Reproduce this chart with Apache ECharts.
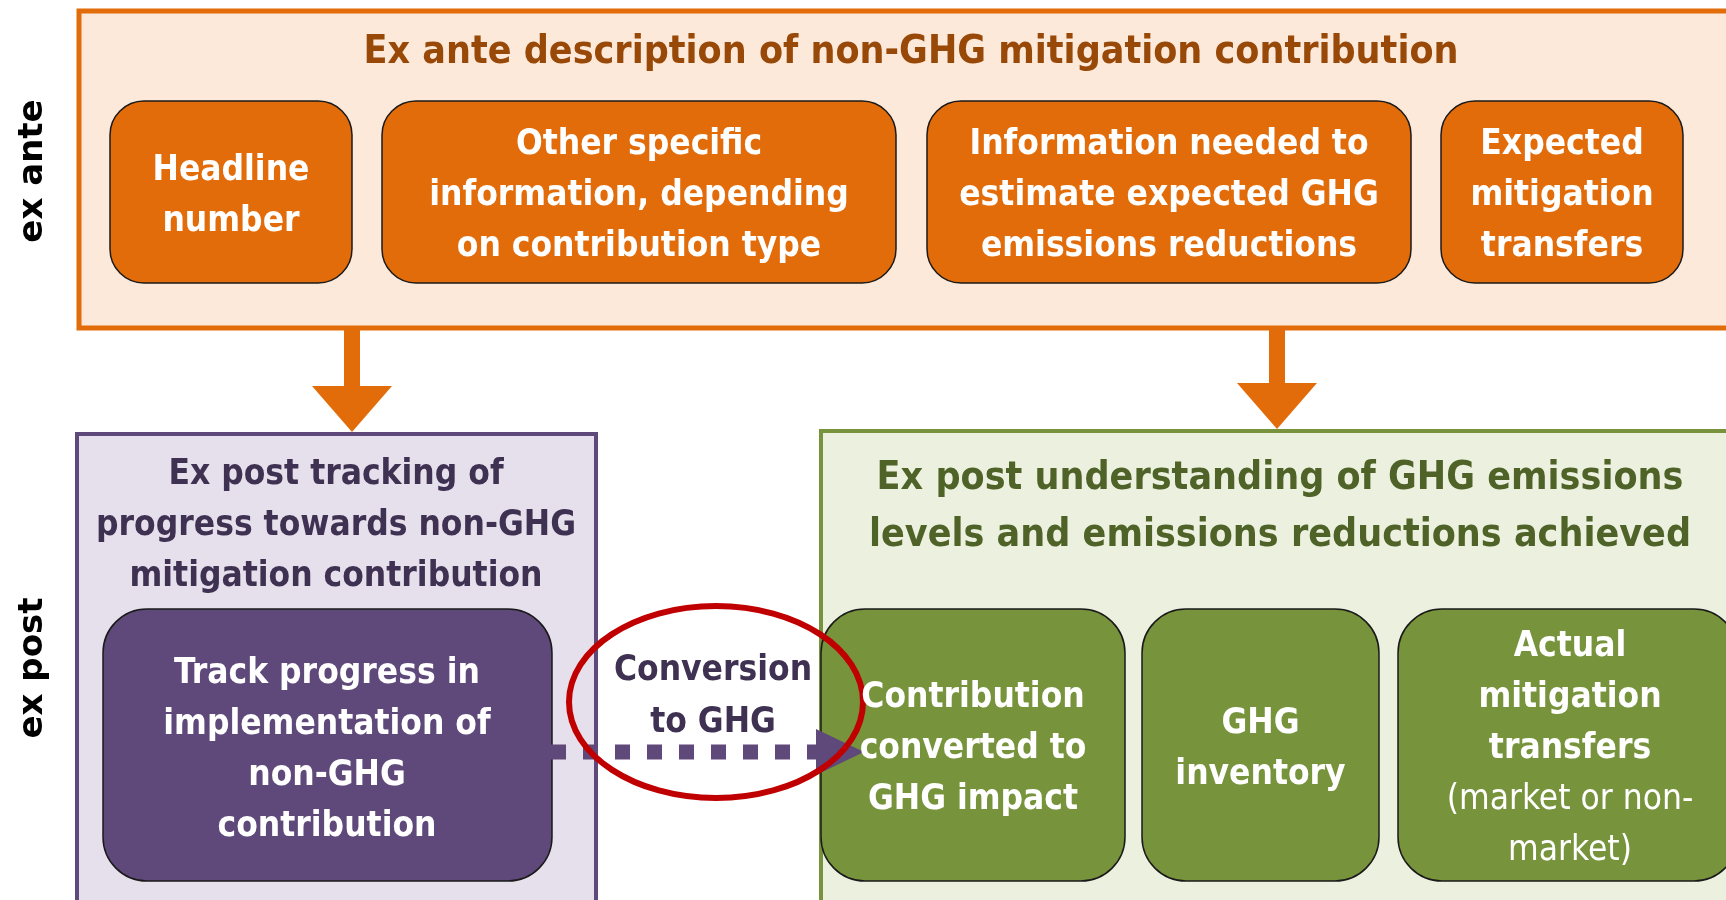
<!DOCTYPE html>
<html>
<head>
<meta charset="utf-8">
<script src="https://cdn.jsdelivr.net/npm/echarts@6/dist/echarts.min.js"></script>
<style>
	html, body { margin: 0; padding: 0; background: #fff; }
	#main { width: 1726px; height: 900px; }
</style>
</head>
<body>
<div id="main"></div>
<script>
// labels of the diagram
var sideLabels = ["ex ante", "ex post"];
var exAnteTitle = ["Ex ante description of non-GHG mitigation contribution"];
var exAnteItems = [
	["Headline", "number"],
	["Other specific", "information, depending", "on contribution type"],
	["Information needed to", "estimate expected GHG", "emissions reductions"],
	["Expected", "mitigation", "transfers"]
];
var trackingTitle = ["Ex post tracking of", "progress towards non-GHG", "mitigation contribution"];
var trackingItem = ["Track progress in", "implementation of", "non-GHG", "contribution"];
var conversionLabel = ["Conversion", "to GHG"];
var understandingTitle = ["Ex post understanding of GHG emissions", "levels and emissions reductions achieved"];
var understandingItems = [
	["Contribution", "converted to", "GHG impact"],
	["GHG", "inventory"],
	["Actual", "mitigation", "transfers", "(market or non-", "market)"]
];
// lines of the last box that are not bold
var plainLines = ["(market or non-", "market)"];

(function() {
	var myChart = echarts.init(document.getElementById("main"));

	var FONT = '"Liberation Sans Narrow", "DejaVu Sans Condensed", sans-serif';
	var els = [];

	function textBlock(lines, cx, cy, size, lh, color) {
		var top = cy + 4 - (lines.length - 1) * lh / 2;
		lines.forEach(function(t, i) {
			els.push({
				type: "text",
				x: cx,
				y: top + i * lh,
				z: 20,
				style: {
					text: t,
					fill: color,
					font: (plainLines.indexOf(t) >= 0 ? "normal " : "bold ") + size + "px " + FONT,
					textAlign: "center",
					textVerticalAlign: "middle"
				}
			});
		});
	}

	function box(x, y, w, h, r, fill, stroke, lw, z) {
		els.push({
			type: "rect",
			z: z || 1,
			shape: { x: x, y: y, width: w, height: h, r: r },
			style: { fill: fill, stroke: stroke, lineWidth: lw }
		});
	}

	function downArrow(cx, y0, y1, tip) {
		els.push({ type: "rect", z: 2, shape: { x: cx - 8, y: y0, width: 16, height: y1 - y0 + 1 }, style: { fill: "#E36C0A" } });
		els.push({ type: "polygon", z: 2, shape: { points: [[cx - 40, y1], [cx + 40, y1], [cx, tip]] }, style: { fill: "#E36C0A" } });
	}

	// ex ante frame
	box(79, 11, 1700, 317, 0, "#FDE9D9", "#E36C0A", 5);
	textBlock(exAnteTitle, 911, 49, 39, 50, "#984807");
	var anteX = [[110, 242], [382, 514], [927, 484], [1441, 242]];
	exAnteItems.forEach(function(lines, i) {
		box(anteX[i][0], 101, anteX[i][1], 182, 34, "#E36C0A", "#1a1a1a", 1.5, 3);
		textBlock(lines, anteX[i][0] + anteX[i][1] / 2, 192, 35, 51, "#fff");
	});

	// arrows down
	downArrow(352, 330, 386, 432);
	downArrow(1277, 330, 383, 429);

	// ex post tracking frame
	box(77, 434, 519, 500, 0, "#E5E0EC", "#5F497A", 4);
	textBlock(trackingTitle, 336, 522, 35, 51, "#3F3151");
	box(103, 609, 449, 272, 44, "#5F497A", "#1a1a1a", 1.5, 3);
	textBlock(trackingItem, 327, 746, 35, 51, "#fff");

	// ex post understanding frame
	box(821, 431, 960, 500, 0, "#EBF1DE", "#77933C", 4);
	textBlock(understandingTitle, 1280, 503, 39, 57, "#4F6228");
	var underX = [[821, 304], [1142, 237], [1398, 340]];
	understandingItems.forEach(function(lines, i) {
		box(underX[i][0], 609, underX[i][1], 272, 44, "#77933C", "#1a1a1a", 1.5, 3);
		textBlock(lines, underX[i][0] + (i === 2 ? 172 : underX[i][1] / 2), 745, 35, 51, "#fff");
	});

	// dotted conversion arrow
	els.push({
		type: "line", z: 10,
		shape: { x1: 551, y1: 752, x2: 818, y2: 752 },
		style: { stroke: "#5F497A", lineWidth: 15, lineDash: [15, 17] }
	});
	els.push({
		type: "polygon", z: 10,
		shape: { points: [[816, 729], [816, 775], [864, 752]] },
		style: { fill: "#5F497A" }
	});
	els.push({
		type: "ellipse", z: 12,
		shape: { cx: 716, cy: 702, rx: 147, ry: 96 },
		style: { fill: null, stroke: "#C00000", lineWidth: 6 }
	});
	textBlock(conversionLabel, 713, 693, 35, 52, "#3F3151");

	// side labels
	[171, 668].forEach(function(cy, i) {
		els.push({
			type: "text", x: 33, y: cy, rotation: Math.PI / 2, z: 20,
			style: {
				text: sideLabels[i],
				fill: "#000",
				font: 'bold 34px "DejaVu Sans", sans-serif',
				textAlign: "center",
				textVerticalAlign: "middle"
			}
		});
	});

	var option = {
		animation: false,
		graphic: { elements: els }
	};

	myChart.setOption(option);

	window.addEventListener("resize", function() {
		myChart.resize();
	});
})();
</script>
</body>
</html>
